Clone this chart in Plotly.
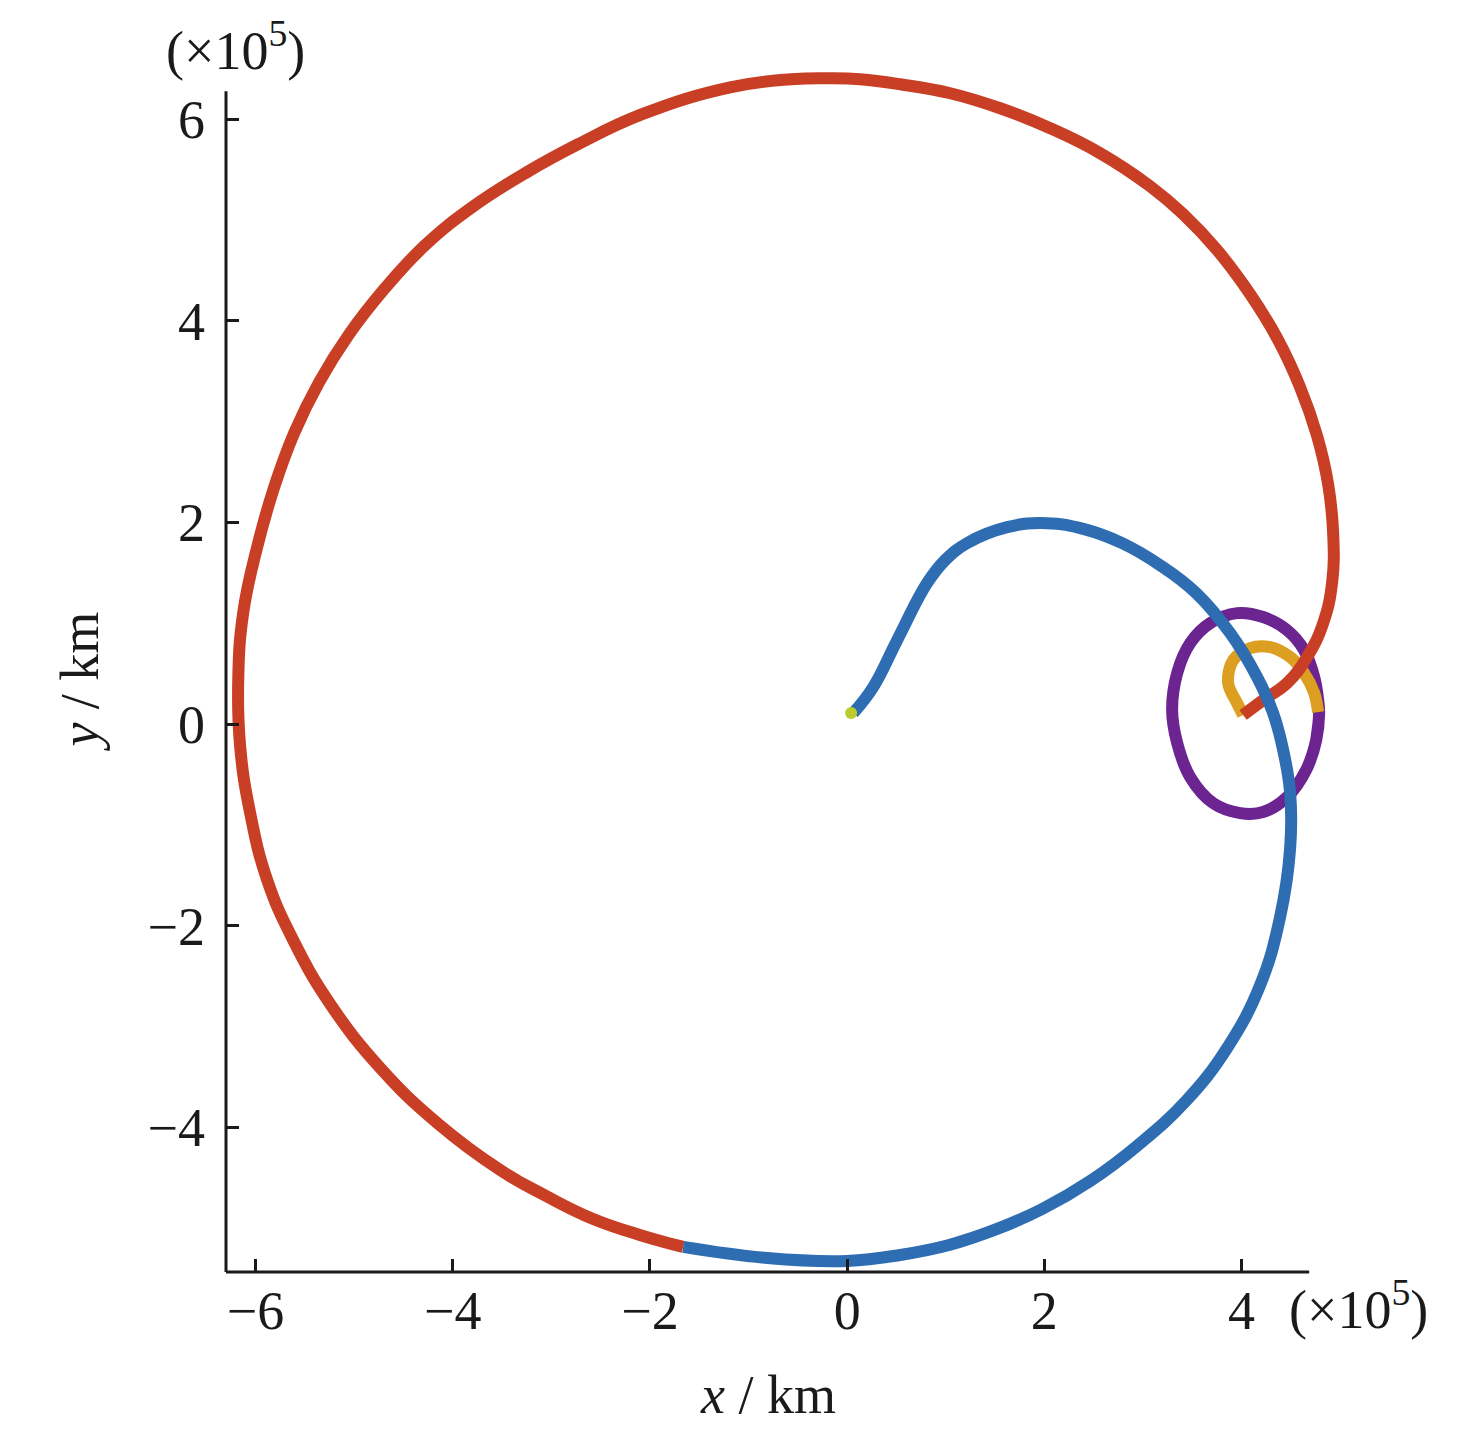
import plotly.graph_objects as go

# Trajectory segments (units of 1e5 km)
red_x = [4.016, 4.219, 4.462, 4.665, 4.828, 4.919, 4.929, 4.878, 4.767, 4.594, 4.361, 4.087, 3.753, 3.408,
         3.073, 2.566, 2.059, 1.552, 1.045, 0.538, 0.132, -0.172, -0.568, -1.187, -2.079, -2.728, -3.266,
         -3.803, -4.280, -4.696, -5.051, -5.355, -5.609, -5.811, -5.984, -6.126, -6.176, -6.156, -6.055,
         -5.882, -5.619, -5.243, -4.726, -4.158, -3.519, -3.053, -2.576, -2.069, -1.663]
red_y = [0.089, 0.238, 0.407, 0.665, 1.002, 1.409, 1.895, 2.381, 2.857, 3.343, 3.829, 4.266, 4.702, 5.060,
         5.337, 5.665, 5.913, 6.111, 6.260, 6.349, 6.399, 6.409, 6.399, 6.319, 6.052, 5.754, 5.466,
         5.129, 4.752, 4.315, 3.869, 3.393, 2.887, 2.351, 1.756, 1.101, 0.437, -0.228, -0.883,
         -1.548, -2.143, -2.778, -3.423, -3.958, -4.425, -4.683, -4.911, -5.079, -5.188]

blue_x = [-1.663, -0.811, 0.000, 0.538, 1.034, 1.521, 1.978, 2.465, 2.951, 3.436, 3.854, 4.189, 4.391, 4.493,
          4.493, 4.422, 4.320, 4.158, 3.884, 3.540, 3.174, 2.789, 2.404, 2.028, 1.623, 1.217, 0.994,
          0.811, 0.507, 0.264, 0.061]
blue_y = [-5.188, -5.298, -5.327, -5.268, -5.169, -5.010, -4.812, -4.534, -4.177, -3.740, -3.214, -2.589,
          -1.915, -1.230, -0.685, -0.258, 0.109, 0.466, 0.903, 1.300, 1.577, 1.796, 1.935, 1.994, 1.954,
          1.796, 1.627, 1.399, 0.833, 0.367, 0.109]

orange_x = [4.016, 3.955, 3.864, 3.915, 4.087, 4.290, 4.493, 4.635, 4.737, 4.777]
orange_y = [0.089, 0.208, 0.407, 0.635, 0.754, 0.764, 0.665, 0.506, 0.308, 0.119]

purple_x = [4.777, 4.787, 4.757, 4.655, 4.462, 4.219, 3.986, 3.712, 3.479, 3.347, 3.296, 3.347, 3.479,
            3.682, 3.955, 4.219, 4.462, 4.635, 4.737, 4.777, 4.787, 4.757]
purple_y = [0.238, 0.109, -0.159, -0.456, -0.724, -0.873, -0.883, -0.784, -0.526, -0.188, 0.139, 0.506,
            0.804, 1.002, 1.101, 1.062, 0.933, 0.734, 0.466, 0.238, 0.109, -0.159]

start_x = [0.04]
start_y = [0.11]

x_ticks = [-6, -4, -2, 0, 2, 4]
y_ticks = [-4, -2, 0, 2, 4, 6]

# axis extents (drawn spines) and view ranges
x_axis_span = [-6.30, 4.686]
y_axis_span = [-5.437, 6.28]
x_view = [-6.30, 5.10]
y_view = [-5.437, 6.55]

FONT = "Liberation Serif"
INK = "#1a1a1a"
LW = 12

fig = go.Figure()
fig.add_trace(go.Scatter(x=purple_x, y=purple_y, mode="lines",
                         line=dict(color="#6b2490", width=LW, shape="spline", smoothing=1.1),
                         showlegend=False))
fig.add_trace(go.Scatter(x=orange_x, y=orange_y, mode="lines",
                         line=dict(color="#dc9f22", width=LW, shape="spline"), showlegend=False))
fig.add_trace(go.Scatter(x=red_x, y=red_y, mode="lines",
                         line=dict(color="#c83f26", width=LW, shape="spline", smoothing=1.25),
                         showlegend=False))
fig.add_trace(go.Scatter(x=blue_x, y=blue_y, mode="lines",
                         line=dict(color="#2f6db3", width=LW, shape="spline", smoothing=1.2),
                         showlegend=False))
fig.add_trace(go.Scatter(x=start_x, y=start_y, mode="markers",
                         marker=dict(color="#bccc2c", size=12), showlegend=False))

axis_common = dict(showline=False, ticks="inside", ticklen=13, automargin=False,
                   tickwidth=2.5, tickcolor=INK, showgrid=False, zeroline=False,
                   tickfont=dict(family=FONT, size=54, color=INK))

fig.update_xaxes(range=x_view, tickvals=x_ticks,
                 ticktext=[f"{v}".replace("-", "\u2212") for v in x_ticks],
                 ticklabelstandoff=2, **axis_common)
fig.update_yaxes(range=y_view, tickvals=y_ticks,
                 ticktext=[f"{v}".replace("-", "\u2212") for v in y_ticks],
                 ticklabelstandoff=20, **axis_common)

# spines (only over the axis span, curves run past them)
fig.add_shape(type="line", xref="x", yref="paper", x0=x_axis_span[0], x1=x_axis_span[1], y0=0, y1=0,
              line=dict(color=INK, width=3))
fig.add_shape(type="line", xref="paper", yref="y", x0=0, x1=0, y0=y_axis_span[0], y1=y_axis_span[1],
              line=dict(color=INK, width=3))

# axis titles centred on the drawn spines
fig.add_annotation(text="<i>x</i> / km", xref="x", yref="paper",
                   x=(x_axis_span[0] + x_axis_span[1]) / 2, y=0, yshift=-123,
                   xanchor="center", yanchor="middle", showarrow=False,
                   font=dict(family=FONT, size=54, color=INK))
fig.add_annotation(text="<i>y</i> / km", xref="paper", yref="y",
                   x=0, y=(y_axis_span[0] + y_axis_span[1]) / 2, xshift=-146, textangle=-90,
                   xanchor="center", yanchor="middle", showarrow=False,
                   font=dict(family=FONT, size=54, color=INK))

fig.add_annotation(text="(×10<sup>5</sup>)", xref="paper", yref="paper", x=0, y=1.0, xshift=9, yshift=-19,
                   xanchor="center", yanchor="bottom", showarrow=False,
                   font=dict(family=FONT, size=54, color=INK))
fig.add_annotation(text="(×10<sup>5</sup>)", xref="paper", yref="paper", x=1.0, y=0.0, xshift=-63, yshift=3,
                   xanchor="left", yanchor="top", showarrow=False,
                   font=dict(family=FONT, size=54, color=INK))

fig.update_layout(width=1476, height=1429, plot_bgcolor="white", paper_bgcolor="white",
                  margin=dict(l=218, r=134, t=56, b=165), showlegend=False)

fig.write_html("out.html")
